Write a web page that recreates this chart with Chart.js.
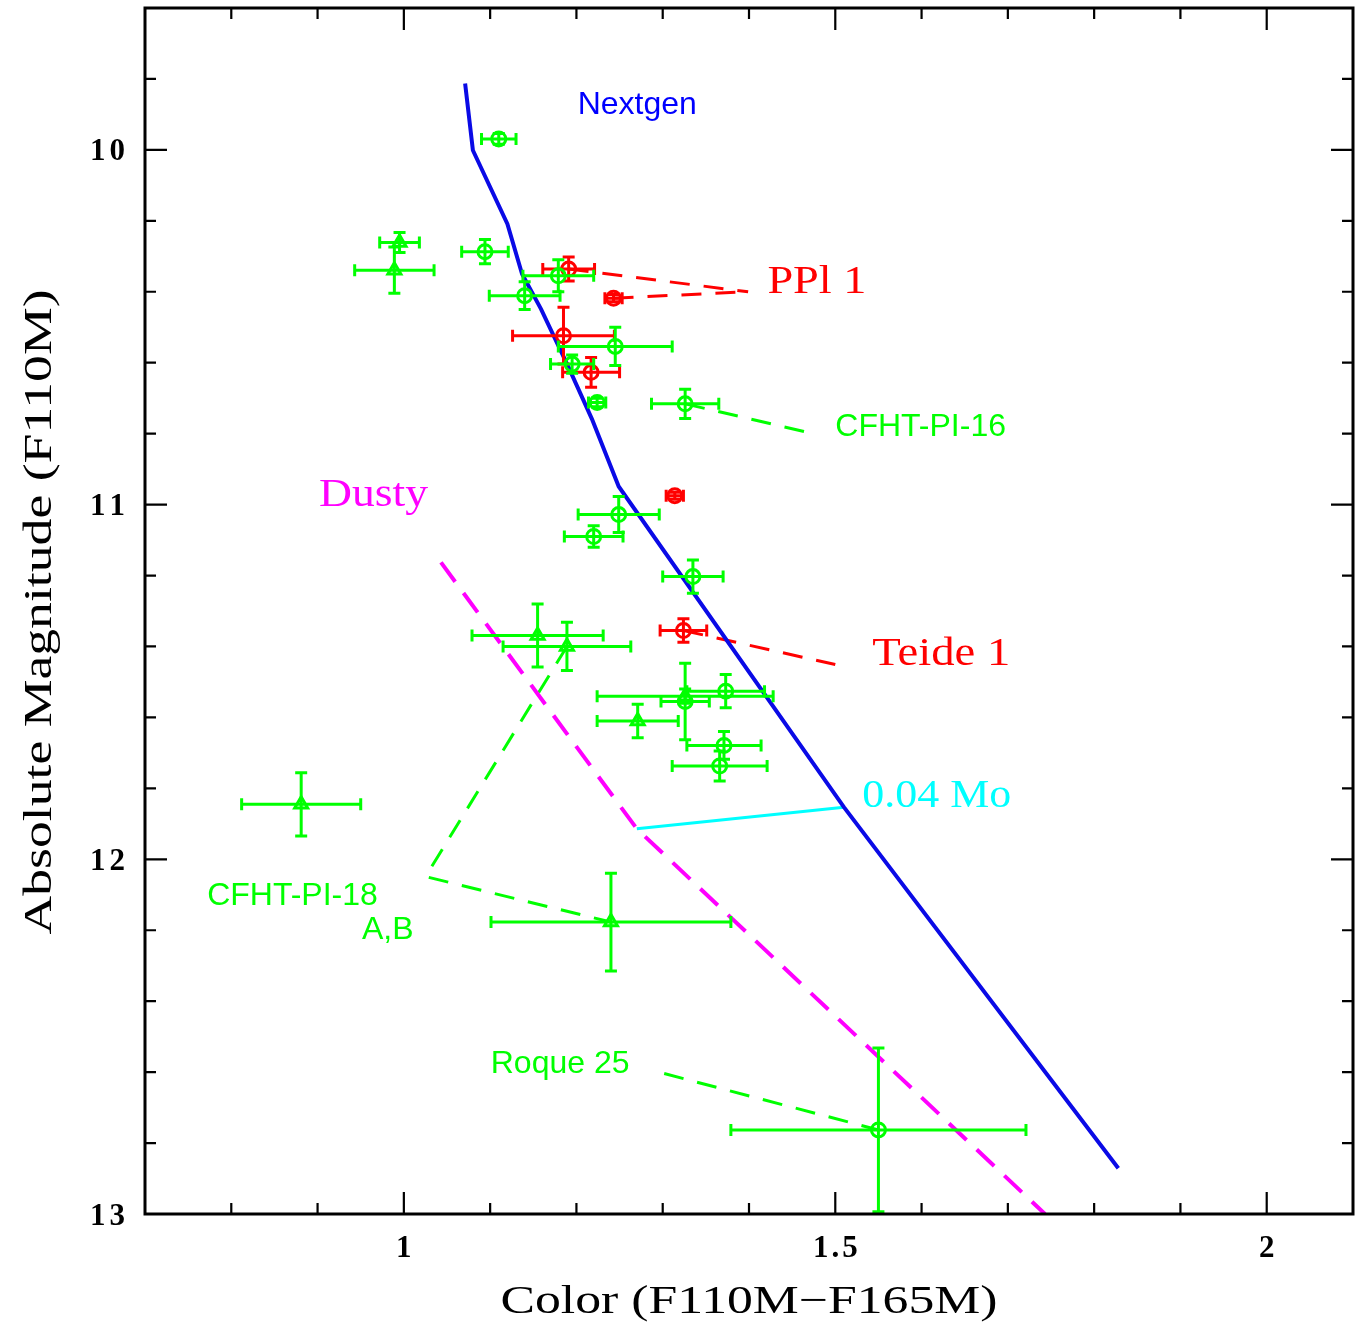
<!DOCTYPE html>
<html><head><meta charset="utf-8">
<script src="https://cdn.jsdelivr.net/npm/chart.js@4.4.1/dist/chart.umd.min.js"></script>
<style>html,body{margin:0;padding:0;background:#fff}#wrap{width:1365px;height:1327px;position:relative}</style>
</head><body><div id="wrap"><canvas id="c"></canvas></div>
<script>
// ---- axes ----
const xRange = [0.7, 2.1];
const yRange = [9.6, 13.0];
const xMajorTicks = [1, 1.5, 2];
const xTickLabels = ['1', '1.5', '2'];
const xMinorTicks = [0.8, 0.9, 1.1, 1.2, 1.3, 1.4, 1.6, 1.7, 1.8, 1.9];
const yMajorTicks = [10, 11, 12, 13];
const yTickLabels = ['10', '11', '12', '13'];
const yMinorTicks = [9.8, 10.2, 10.4, 10.6, 10.8, 11.2, 11.4, 11.6, 11.8, 12.2, 12.4, 12.6, 12.8];
const xTitle = 'Color (F110M\u2212F165M)';
const yTitle = 'Absolute Magnitude (F110M)';

// ---- model tracks ----
const nextgenX = [1.071, 1.080, 1.120, 1.137, 1.159, 1.190, 1.218, 1.249, 1.510, 1.828];
const nextgenY = [9.813, 10.001, 10.209, 10.350, 10.449, 10.608, 10.759, 10.949, 11.853, 12.871];
const dustyX = [1.043, 1.270, 1.743];
const dustyY = [11.163, 11.914, 13.0];
const massX = [1.270, 1.510];
const massY = [11.914, 11.853];

// ---- green open circles ----
const gcX    = [1.110, 1.094, 1.140, 1.179, 1.245, 1.195, 1.224, 1.326, 1.249, 1.220, 1.335, 1.326, 1.373, 1.371, 1.366, 1.550];
const gcY    = [9.969, 10.287, 10.411, 10.355, 10.554, 10.604, 10.712, 10.716, 11.028, 11.090, 11.203, 11.555, 11.526, 11.679, 11.737, 12.763];
const gcXErr = [0.020, 0.027, 0.041, 0.041, 0.066, 0.025, 0.010, 0.039, 0.047, 0.034, 0.035, 0.028, 0.045, 0.043, 0.055, 0.171];
const gcYErr = [0.015, 0.034, 0.039, 0.045, 0.054, 0.026, 0.012, 0.041, 0.051, 0.030, 0.047, 0.108, 0.047, 0.039, 0.042, 0.231];
// ---- green triangles ----
const gtX    = [0.995, 0.989, 1.155, 1.189, 1.271, 1.326, 0.881, 1.240];
const gtY    = [10.261, 10.339, 11.369, 11.400, 11.610, 11.540, 11.845, 12.177];
const gtXErr = [0.023, 0.046, 0.076, 0.074, 0.047, 0.102, 0.069, 0.139];
const gtYErr = [0.028, 0.065, 0.089, 0.068, 0.047, 0.020, 0.089, 0.138];
// ---- red open circles ----
const rcX    = [1.191, 1.243, 1.185, 1.217, 1.314, 1.324];
const rcY    = [10.336, 10.418, 10.524, 10.627, 10.975, 11.355];
const rcXErr = [0.030, 0.010, 0.059, 0.033, 0.010, 0.027];
const rcYErr = [0.034, 0.010, 0.080, 0.042, 0.010, 0.033];

// ---- annotation leader lines ----
const ppl1LineAX = [1.191, 1.399], ppl1LineAY = [10.336, 10.400];
const ppl1LineBX = [1.243, 1.399], ppl1LineBY = [10.418, 10.400];
const cfht16LineX = [1.326, 1.4675], cfht16LineY = [10.716, 10.796];
const teideLineX = [1.324, 1.500], teideLineY = [11.355, 11.451];
const cfht18LineAX = [1.189, 1.0324], cfht18LineAY = [11.400, 12.020];
const cfht18LineBX = [1.0289, 1.240], cfht18LineBY = [12.051, 12.177];
const roqueLineX = [1.3017, 1.550], roqueLineY = [12.604, 12.763];

// ---- text labels (data coords of left baseline) ----
const sansLabels = ['Nextgen', 'CFHT-PI-16', 'CFHT-PI-18', 'A,B', 'Roque 25'];
const sansLabelX = [1.2014, 1.500, 0.772, 0.9514, 1.1007];
const sansLabelY = [9.8986, 10.8056, 12.1296, 12.2254, 12.6028];
const sansLabelColor = ['#0000ff', '#00ff00', '#00ff00', '#00ff00', '#00ff00'];
const serifLabels = ['PPl 1', 'Dusty', 'Teide 1', '0.04 Mo'];
const serifLabelX = [1.4213, 0.9016, 1.5428, 1.5312];
const serifLabelY = [10.4028, 11.0028, 11.4535, 11.8535];
const serifLabelColor = ['#ff0000', '#ff00ff', '#ff0000', '#00ffff'];
const serifLabelWidth = [99, 109, 138, 149];

const GREEN = '#00ff00', RED = '#ff0000', BLUE = '#0a0ae6', MAGENTA = '#ff00ff', CYAN = '#00ffff';

function pts(xs, ys) { return xs.map((x, i) => ({x: x, y: ys[i]})); }
function lineDs(xs, ys, color, width, dash) {
  return {type: 'line', data: pts(xs, ys), borderColor: color, borderWidth: width, borderDash: dash || [],
    pointRadius: 0, fill: false, tension: 0, showLine: true, order: 10, borderCapStyle: 'butt'};
}
function markDs(xs, ys, ex, ey, color, style, r, order) {
  return {type: 'scatter', data: pts(xs, ys), errX: ex, errY: ey, borderColor: color, backgroundColor: 'rgba(0,0,0,0)',
    pointStyle: style, pointRadius: r, pointBorderWidth: 3, borderWidth: 3, order: order};
}

const datasets = [
  lineDs(nextgenX, nextgenY, BLUE, 4),
  lineDs(dustyX, dustyY, MAGENTA, 4, [24, 14]),
  lineDs(massX, massY, CYAN, 3),
  lineDs(ppl1LineAX, ppl1LineAY, RED, 3, [20, 14]),
  lineDs(ppl1LineBX, ppl1LineBY, RED, 3, [20, 14]),
  lineDs(teideLineX, teideLineY, RED, 3, [20, 14]),
  lineDs(cfht16LineX, cfht16LineY, GREEN, 3, [20, 14]),
  lineDs(cfht18LineAX, cfht18LineAY, GREEN, 3, [20, 14]),
  lineDs(cfht18LineBX, cfht18LineBY, GREEN, 3, [20, 14]),
  lineDs(roqueLineX, roqueLineY, GREEN, 3, [20, 14]),
  markDs(rcX, rcY, rcXErr, rcYErr, RED, 'circle', 7, 5),
  markDs(gtX, gtY, gtXErr, gtYErr, GREEN, 'triangle', 7.5, 2),
  markDs(gcX, gcY, gcXErr, gcYErr, GREEN, 'circle', 7, 1)
];

function drawFit(ctx, text, x, y, font, width, align) {
  ctx.font = font;
  const w = ctx.measureText(text).width;
  const s = width / w;
  ctx.save();
  ctx.translate(x, y);
  ctx.scale(s, 1);
  ctx.textAlign = 'left';
  let x0 = 0;
  if (align === 'center') x0 = -w / 2;
  else if (align === 'right') x0 = -w;
  ctx.fillText(text, x0, 0);
  ctx.restore();
}
function drawSpaced(ctx, text, x, y, spacing, align) {
  const ws = [...text].map(ch => ctx.measureText(ch).width);
  const total = ws.reduce((a, b) => a + b, 0) + spacing * (ws.length - 1);
  let cx = x;
  if (align === 'center') cx = x - total / 2;
  else if (align === 'right') cx = x - total;
  ctx.textAlign = 'left';
  [...text].forEach((ch, i) => { ctx.fillText(ch, cx, y); cx += ws[i] + spacing; });
}

const plugin = {
  id: 'astro',
  afterDatasetDraw(chart, args) {
    const ds = chart.data.datasets[args.index];
    if (!ds.errX) return;
    const ctx = chart.ctx, xs = chart.scales.x, ys = chart.scales.y, a = chart.chartArea;
    ctx.save();
    ctx.beginPath(); ctx.rect(a.left, a.top, a.right - a.left, a.bottom - a.top); ctx.clip();
    ctx.strokeStyle = ds.borderColor; ctx.lineWidth = 3; ctx.lineCap = 'butt';
    const cap = 6;
    ds.data.forEach((p, i) => {
      const cx = xs.getPixelForValue(p.x), cy = ys.getPixelForValue(p.y);
      const x0 = xs.getPixelForValue(p.x - ds.errX[i]), x1 = xs.getPixelForValue(p.x + ds.errX[i]);
      const y0 = ys.getPixelForValue(p.y - ds.errY[i]), y1 = ys.getPixelForValue(p.y + ds.errY[i]);
      ctx.beginPath();
      ctx.moveTo(x0, cy); ctx.lineTo(x1, cy);
      ctx.moveTo(x0, cy - cap); ctx.lineTo(x0, cy + cap);
      ctx.moveTo(x1, cy - cap); ctx.lineTo(x1, cy + cap);
      ctx.moveTo(cx, y0); ctx.lineTo(cx, y1);
      ctx.moveTo(cx - cap, y0); ctx.lineTo(cx + cap, y0);
      ctx.moveTo(cx - cap, y1); ctx.lineTo(cx + cap, y1);
      ctx.stroke();
    });
    ctx.restore();
  },
  afterDraw(chart) {
    const ctx = chart.ctx, xs = chart.scales.x, ys = chart.scales.y, a = chart.chartArea;
    ctx.save();
    ctx.strokeStyle = '#000'; ctx.lineWidth = 3;
    ctx.strokeRect(a.left, a.top, a.right - a.left, a.bottom - a.top);
    ctx.lineWidth = 2.2;
    ctx.beginPath();
    const tx = (v, len) => { const p = xs.getPixelForValue(v);
      ctx.moveTo(p, a.bottom); ctx.lineTo(p, a.bottom - len); ctx.moveTo(p, a.top); ctx.lineTo(p, a.top + len); };
    const ty = (v, len) => { const p = ys.getPixelForValue(v);
      ctx.moveTo(a.left, p); ctx.lineTo(a.left + len, p); ctx.moveTo(a.right, p); ctx.lineTo(a.right - len, p); };
    xMajorTicks.forEach(v => tx(v, 22)); xMinorTicks.forEach(v => tx(v, 11));
    yMajorTicks.forEach(v => ty(v, 22)); yMinorTicks.forEach(v => ty(v, 11));
    ctx.stroke();
    ctx.fillStyle = '#000';
    ctx.font = "bold 31px 'Liberation Serif'";
    ctx.textBaseline = 'alphabetic';
    xMajorTicks.forEach((v, i) => drawSpaced(ctx, xTickLabels[i], xs.getPixelForValue(v), a.bottom + 43, 3, 'center'));
    yMajorTicks.forEach((v, i) => drawSpaced(ctx, yTickLabels[i], 125, ys.getPixelForValue(v) + 10.5, 4, 'right'));
    drawFit(ctx, xTitle, (a.left + a.right) / 2, 1313, "40px 'Liberation Serif'", 497, 'center');
    ctx.save();
    ctx.translate(51, (a.top + a.bottom) / 2 + 1);
    ctx.rotate(-Math.PI / 2);
    drawFit(ctx, yTitle, 0, 0, "40px 'Liberation Serif'", 645, 'center');
    ctx.restore();
    ctx.font = "32px 'Liberation Sans'";
    ctx.textAlign = 'left';
    sansLabels.forEach((t, i) => { ctx.fillStyle = sansLabelColor[i];
      ctx.fillText(t, xs.getPixelForValue(sansLabelX[i]), ys.getPixelForValue(sansLabelY[i])); });
    serifLabels.forEach((t, i) => { ctx.fillStyle = serifLabelColor[i];
      drawFit(ctx, t, xs.getPixelForValue(serifLabelX[i]), ys.getPixelForValue(serifLabelY[i]), "39px 'Liberation Serif'", serifLabelWidth[i], 'left'); });
    ctx.restore();
  }
};

new Chart(document.getElementById('c'), {
  type: 'scatter',
  data: {datasets: datasets},
  plugins: [plugin],
  options: {
    responsive: true, maintainAspectRatio: false, animation: false,
    layout: {autoPadding: false, padding: {top: 8, right: 12, left: 0, bottom: 0}},
    plugins: {legend: {display: false}, tooltip: {enabled: false}},
    scales: {
      x: {type: 'linear', min: xRange[0], max: xRange[1],
        grid: {display: false, drawTicks: false}, border: {display: false},
        ticks: {display: false},
        afterBuildTicks: s => { s.ticks = xMajorTicks.map(v => ({value: v})); },
        afterFit: s => { s.height = 113; }},
      y: {type: 'linear', min: yRange[0], max: yRange[1], reverse: true,
        grid: {display: false, drawTicks: false}, border: {display: false},
        ticks: {display: false},
        afterBuildTicks: s => { s.ticks = yMajorTicks.map(v => ({value: v})); },
        afterFit: s => { s.width = 145; }}
    }
  }
});
</script></body></html>
